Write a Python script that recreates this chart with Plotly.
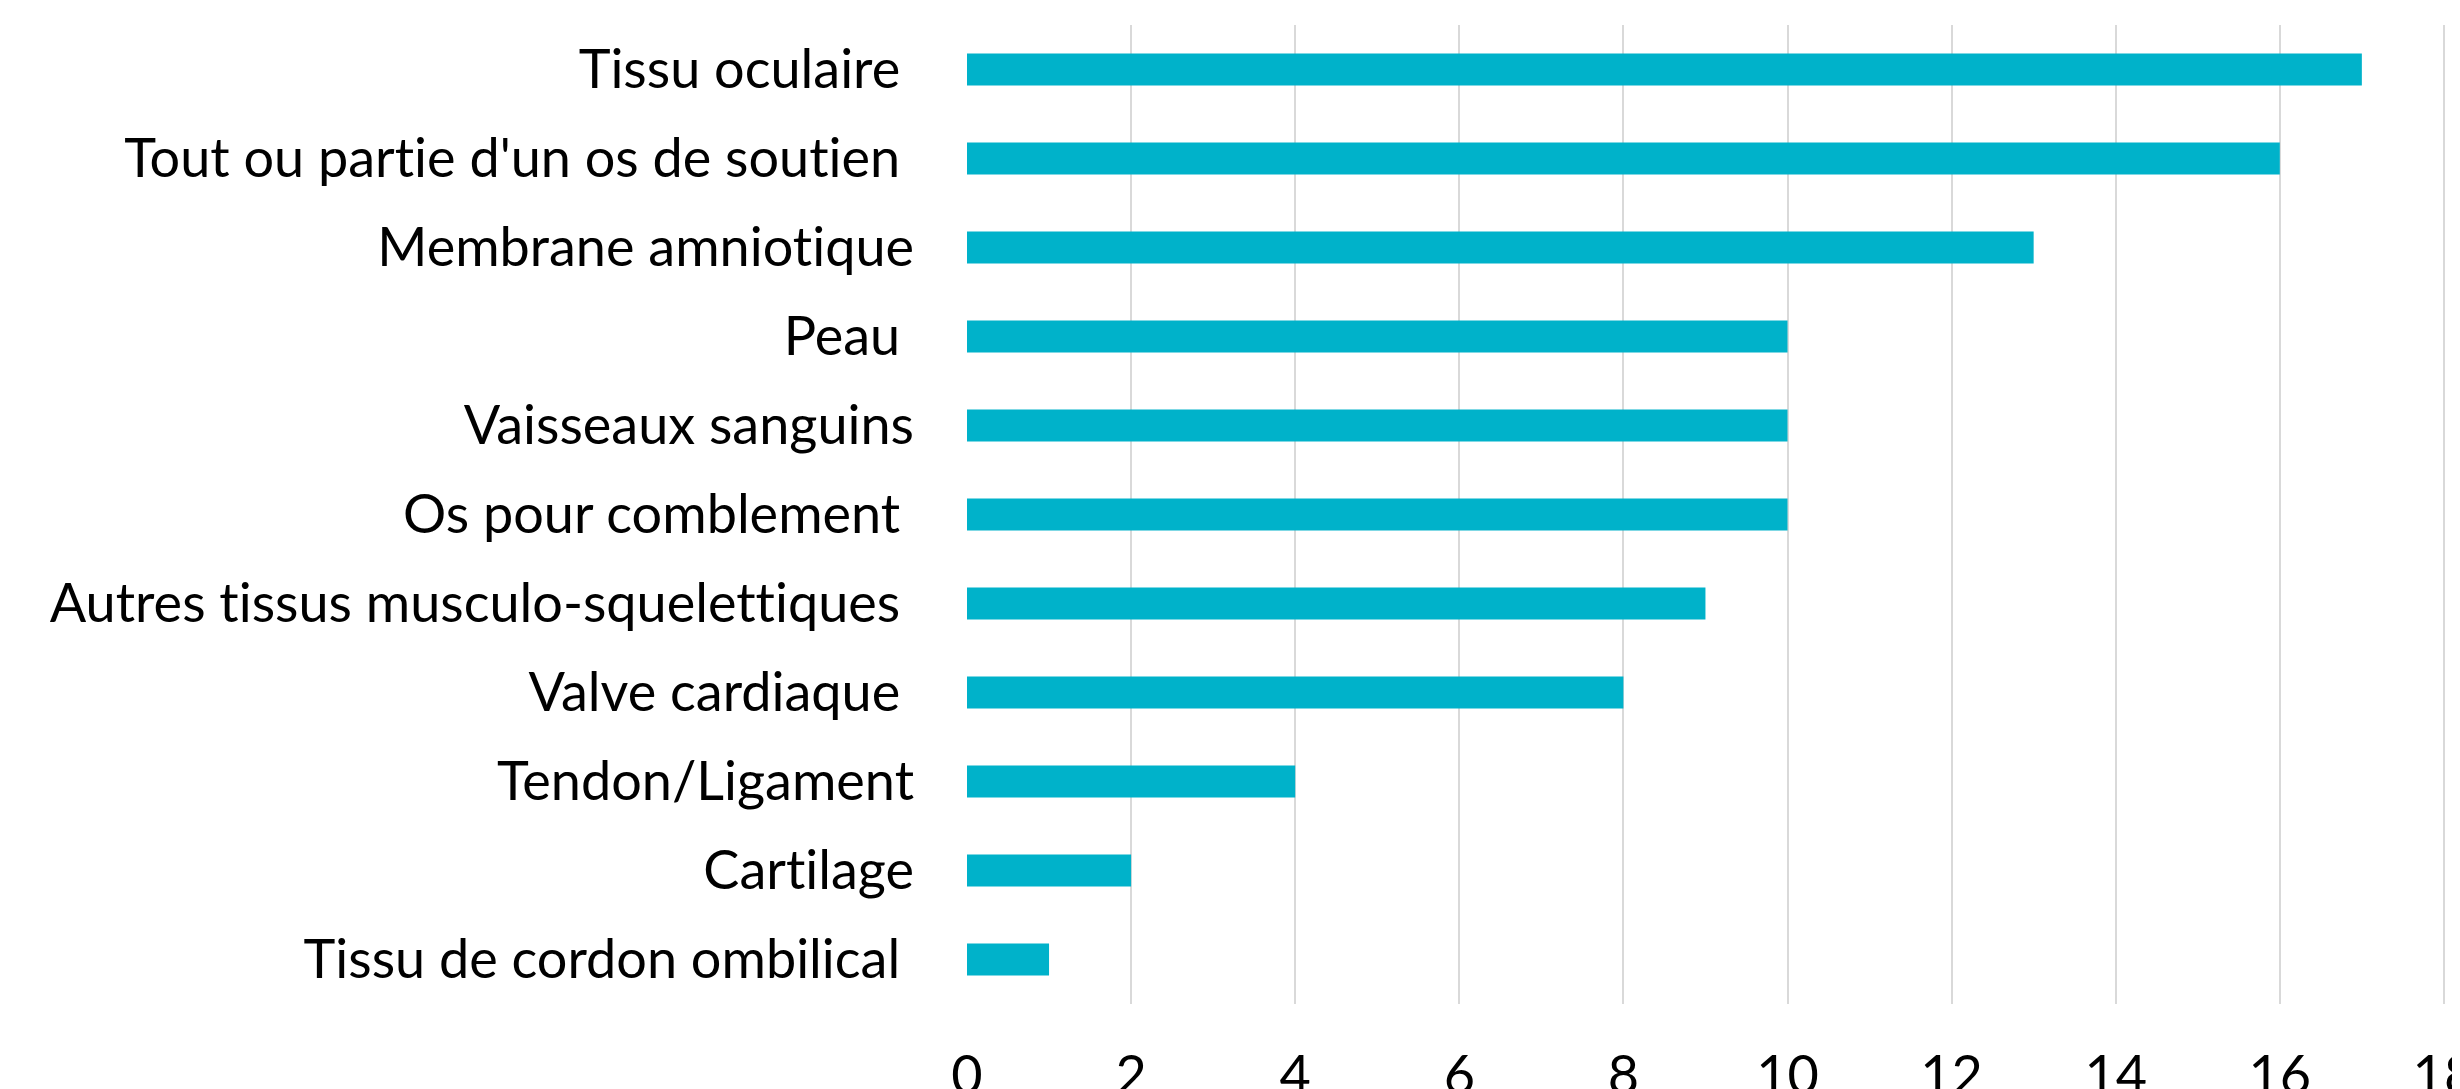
import plotly.graph_objects as go

# categories top -> bottom, trailing nbsp keeps the odd spacing of the source labels
categories = [
    "Tissu oculaire\u00a0",
    "Tout ou partie d'un os de soutien\u00a0",
    "Membrane amniotique",
    "Peau\u00a0",
    "Vaisseaux sanguins",
    "Os pour comblement\u00a0",
    "Autres tissus musculo-squelettiques\u00a0",
    "Valve cardiaque\u00a0",
    "Tendon/Ligament",
    "Cartilage",
    "Tissu de cordon ombilical\u00a0",
]
values = [17, 16, 13, 10, 10, 10, 9, 8, 4, 2, 1]
x_ticks = [0, 2, 4, 6, 8, 10, 12, 14, 16, 18]

fig = go.Figure()
fig.add_trace(go.Bar(
    x=values,
    y=categories,
    orientation="h",
    marker=dict(color="#00B2CA", line=dict(width=0)),
))

fig.update_layout(
    width=2460,
    height=1089,
    margin=dict(l=959, r=20, t=17, b=93),
    paper_bgcolor="white",
    plot_bgcolor="white",
    bargap=0.64,
    showlegend=False,
    font=dict(family="Lato", size=54, color="black"),
)
# a bit past 18 so plotly keeps the last gridline
fig.update_xaxes(
    range=[0, 18.05],
    tickvals=x_ticks,
    showgrid=True,
    gridcolor="#D9D9D9",
    gridwidth=2,
    zeroline=False,
    showline=False,
    ticks="",
    ticklabelstandoff=35,
    ticklabeloverflow="allow",
    automargin=False,
)
fig.update_yaxes(
    autorange="reversed",
    showgrid=False,
    showline=False,
    ticks="",
    ticklabelstandoff=52,
    automargin=False,
)

# no "ti" ligatures, the source font doesn't have them
css = ("document.head.insertAdjacentHTML('beforeend','<style>text{"
       "font-variant-ligatures:none !important;"
       "font-feature-settings:\"liga\" 0, \"clig\" 0 !important}</style>');")
fig.write_html("out.html", post_script=css)
